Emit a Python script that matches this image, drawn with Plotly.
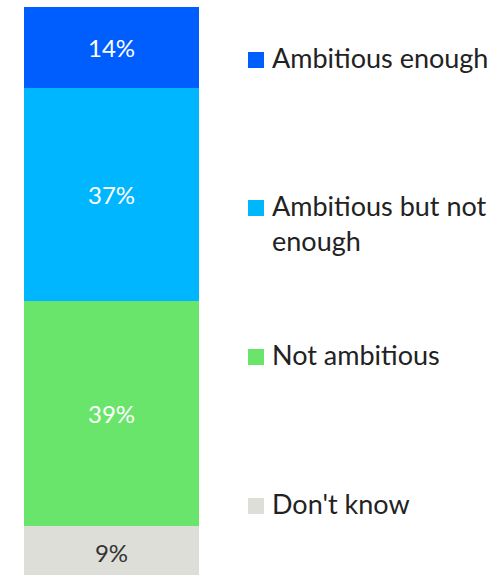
import plotly.graph_objects as go

categories = ["Ambitious enough", "Ambitious but not enough", "Not ambitious", "Don't know"]
legend_text = ["Ambitious enough", "Ambitious but not<br>enough", "Not ambitious", "Don't know"]
values = [14, 37, 39, 9]
colors = ["#005EFF", "#00B6FF", "#68E56A", "#DEDED8"]
label_colors = ["#FFFFFF", "#FFFFFF", "#FFFFFF", "#333333"]

W, H = 501, 575
FONT = "Lato"

fig = go.Figure()
# stack from bottom: Don't know first
for cat, v, c, lc in reversed(list(zip(categories, values, colors, label_colors))):
    fig.add_trace(go.Bar(
        x=[0], y=[v], name=cat, marker=dict(color=c, line=dict(width=0)),
        width=1, text=[f"{v}%"], textposition="inside", insidetextanchor="middle",
        textfont=dict(color=lc, size=24, family=FONT), showlegend=False,
        hoverinfo="skip",
    ))

px_per_unit = 5.77
bar_left, bar_right = 24, 199
unit_x = bar_right - bar_left
x0 = -0.5 - bar_left / unit_x
x1 = 0.5 + (W - bar_right) / unit_x
y_bottom_px = 578
y0 = (y_bottom_px - H) / px_per_unit
y1 = y0 + H / px_per_unit

shapes = []
annotations = []
sq_centers = [60, 208, 357, 506]
for txt, c, cy in zip(legend_text, colors, sq_centers):
    shapes.append(dict(type="rect", xref="paper", yref="paper",
                       x0=248 / W, x1=264 / W, y0=1 - (cy + 8) / H, y1=1 - (cy - 8) / H,
                       fillcolor=c, line=dict(width=0)))
    annotations.append(dict(xref="paper", yref="paper", x=270 / W, y=1 - (cy - 21) / H,
                            xanchor="left", yanchor="top", align="left", text=txt,
                            showarrow=False, font=dict(size=27, family=FONT, color="#222222")))

fig.update_layout(
    width=W, height=H, margin=dict(l=0, r=0, t=0, b=0),
    barmode="stack", bargap=0,
    plot_bgcolor="white", paper_bgcolor="white",
    xaxis=dict(range=[x0, x1], visible=False, fixedrange=True),
    yaxis=dict(range=[y0, y1], visible=False, fixedrange=True),
    uniformtext=dict(mode="show", minsize=10),
    shapes=shapes, annotations=annotations,
)

fig.write_html("out.html")
